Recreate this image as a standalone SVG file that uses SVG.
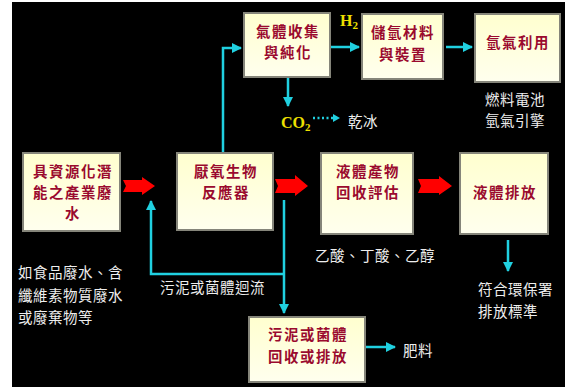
<svg xmlns="http://www.w3.org/2000/svg" width="571" height="388" viewBox="0 0 571 388">
<defs>
<linearGradient id="bf" x1="0" y1="0" x2="0" y2="1">
<stop offset="0" stop-color="#FFFFCF"/>
<stop offset="1" stop-color="#FFFFEE"/>
</linearGradient>
<marker id="ah" viewBox="0 0 10 10" refX="9" refY="5" markerWidth="4" markerHeight="4" orient="auto" markerUnits="strokeWidth">
<path d="M0,0 L10,5 L0,10 z" fill="#20D0E0"/>
</marker>
<style>
.box{fill:url(#bf);stroke:#85857a;stroke-width:2}
.bt{font-family:"Noto Sans CJK TC","Noto Sans CJK SC",sans-serif;font-size:14.4px;letter-spacing:1.6px;font-weight:bold;fill:#9A0A2E;text-anchor:middle}
.wt{font-family:"Noto Sans CJK TC","Noto Sans CJK SC",sans-serif;font-size:14.5px;letter-spacing:0.5px;fill:#EEEEEE}
.yt{font-family:"Liberation Serif",serif;font-size:16px;font-weight:bold;fill:#EEE000}
.cl{fill:none;stroke:#20D0E0;stroke-width:2.5}
.ra{fill:#FF0000}
</style>
</defs>
<rect x="0" y="0" width="571" height="388" fill="#FFFFFF"/>
<rect x="12" y="2" width="553" height="385" fill="#000000"/>

<g id="connectors">
<polyline class="cl" points="223,153 223,48 241,48" marker-end="url(#ah)"/>
<line class="cl" x1="330" y1="47" x2="359" y2="47" marker-end="url(#ah)"/>
<line class="cl" x1="446" y1="47" x2="472" y2="47" marker-end="url(#ah)"/>
<line class="cl" x1="288" y1="77" x2="288" y2="106" marker-end="url(#ah)"/>
<line x1="313" y1="118" x2="333" y2="118" stroke="#20D0E0" stroke-width="2.5" stroke-dasharray="2,2.5"/>
<path d="M333,114 L340,118 L333,122 z" fill="#20D0E0"/>
<line class="cl" x1="284" y1="200" x2="284" y2="313" marker-end="url(#ah)"/>
<polyline class="cl" points="284,274 151,274 151,201" marker-end="url(#ah)"/>
<line class="cl" x1="508" y1="240" x2="508" y2="271" marker-end="url(#ah)"/>
<line class="cl" x1="365" y1="347" x2="395" y2="347" marker-end="url(#ah)"/>
<polygon class="ra" points="123,180 142,180 142,177 155,186 142,195 142,192 123,192 126,186"/>
<polygon class="ra" points="275,179 295,179 295,175 308,186 295,196 295,193 275,193 278,186"/>
<polygon class="ra" points="418,179 439,179 439,176 452,186 439,195 439,193 418,193 421,186"/>
</g>

<g id="n_gas">
<rect class="box" x="244" y="13" width="86" height="64"/>
<text class="bt" x="288" y="37">氣體收集</text>
<text class="bt" x="288" y="58">與純化</text>
</g>
<g id="n_store">
<rect class="box" x="362" y="14" width="81" height="65"/>
<text class="bt" x="403" y="38">儲氫材料</text>
<text class="bt" x="403" y="60">與裝置</text>
</g>
<g id="n_use">
<rect class="box" x="475" y="14" width="85" height="68"/>
<text class="bt" x="518" y="48">氫氣利用</text>
</g>
<g id="n_waste">
<rect class="box" x="23" y="153" width="97" height="78"/>
<text class="bt" x="73" y="177">具資源化潛</text>
<text class="bt" x="73" y="198">能之產業廢</text>
<text class="bt" x="73" y="219">水</text>
</g>
<g id="n_reactor">
<rect class="box" x="177" y="153" width="96" height="77"/>
<text class="bt" x="226" y="177">厭氧生物</text>
<text class="bt" x="226" y="198">反應器</text>
</g>
<g id="n_liquid">
<rect class="box" x="321" y="153" width="92" height="81"/>
<text class="bt" x="368" y="177">液體產物</text>
<text class="bt" x="368" y="198">回收評估</text>
</g>
<g id="n_discharge">
<rect class="box" x="460" y="153" width="88" height="81"/>
<text class="bt" x="505" y="198">液體排放</text>
</g>
<g id="n_sludge">
<rect class="box" x="249" y="317" width="116" height="65"/>
<text class="bt" x="308" y="340">污泥或菌體</text>
<text class="bt" x="308" y="362">回收或排放</text>
</g>

<g id="labels">
<text class="yt" x="340" y="26">H<tspan font-size="11" dy="3">2</tspan></text>
<text class="yt" x="281" y="128">CO<tspan font-size="11" dy="3">2</tspan></text>
<text class="wt" x="348" y="127">乾冰</text>
<text class="wt" x="485" y="105">燃料電池</text>
<text class="wt" x="485" y="126">氫氣引擎</text>
<text class="wt" x="315" y="261">乙酸、丁酸、乙醇</text>
<text class="wt" x="478" y="295">符合環保署</text>
<text class="wt" x="478" y="317">排放標準</text>
<text class="wt" x="18" y="278">如食品廢水、含</text>
<text class="wt" x="18" y="301">纖維素物質廢水</text>
<text class="wt" x="18" y="323">或廢棄物等</text>
<text class="wt" x="160" y="293">污泥或菌體迴流</text>
<text class="wt" x="403" y="356">肥料</text>
</g>
</svg>
